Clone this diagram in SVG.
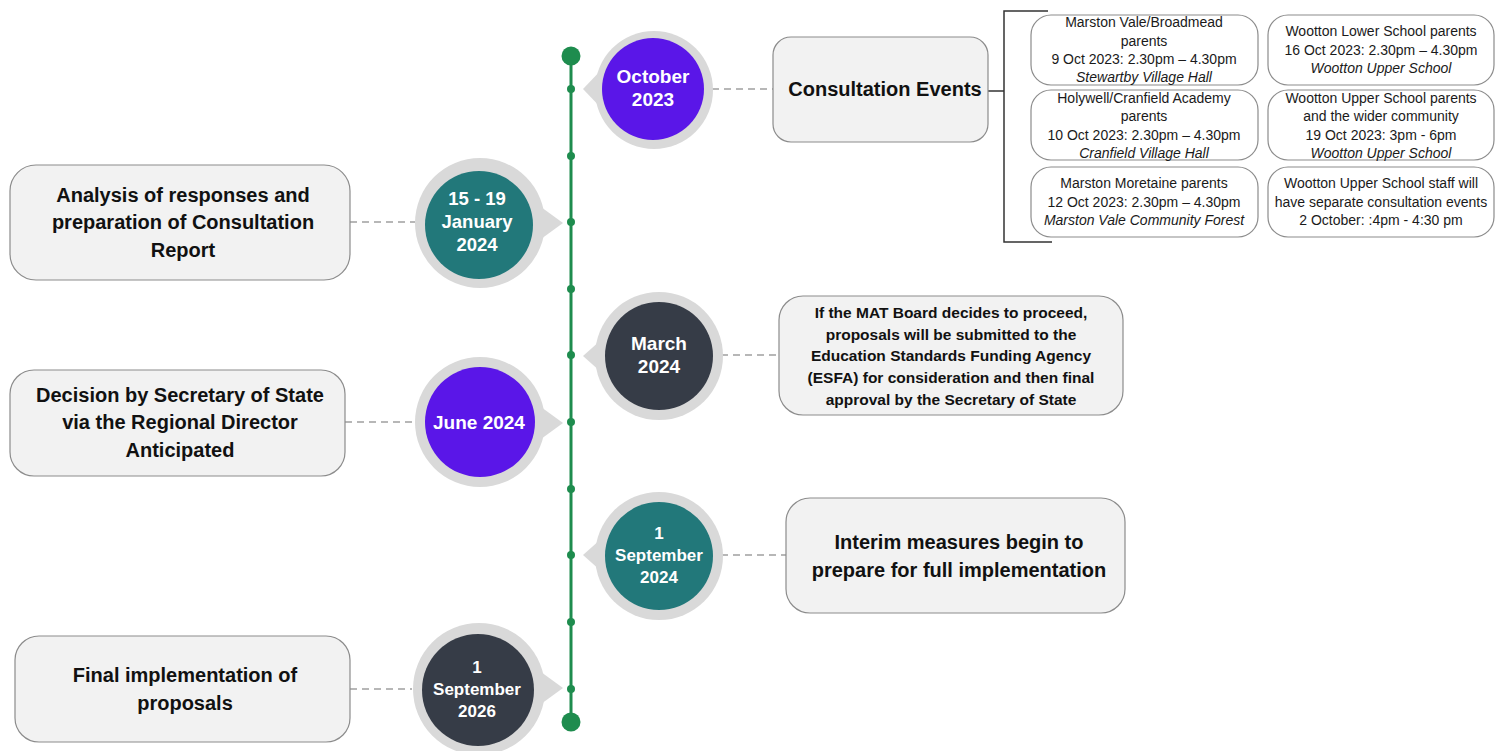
<svg xmlns="http://www.w3.org/2000/svg" width="1496" height="751" viewBox="0 0 1496 751">
<style>
.bg{fill:#ffffff}
.box{fill:#f2f2f2;stroke:#8c8c8c;stroke-width:1.2}
.ev{fill:#ffffff;stroke:#8c8c8c;stroke-width:1.2}
.dash{stroke:#a0a0a0;stroke-width:1.5;stroke-dasharray:7 5;fill:none}
.halo{fill:#d9d9d9}
.purple{fill:#5a16e8}
.teal{fill:#22787a}
.dark{fill:#363c47}
.ct{font-family:"Liberation Sans",Arial,sans-serif;font-weight:bold;fill:#ffffff;text-anchor:middle}
.bt{font-family:"Liberation Sans",Arial,sans-serif;font-weight:bold;fill:#111111;text-anchor:middle;font-size:20px}
.st{font-family:"Liberation Sans",Arial,sans-serif;font-weight:bold;fill:#111111;text-anchor:middle;font-size:15.5px}
.et{font-family:"Liberation Sans",Arial,sans-serif;fill:#1a1a1a;text-anchor:middle;font-size:14px}
.it{font-style:italic}
.line{stroke:#1e8c4e;stroke-width:3}
.dot{fill:#1e8c4e}
.brk{stroke:#333333;stroke-width:1.5;fill:none}
</style>
<rect class="bg" x="0" y="0" width="1496" height="751"/>

<g id="connectors">
  <line class="line" x1="571" y1="56" x2="571" y2="722"/>
  <circle class="dot" cx="571" cy="56" r="9.5"/>
  <circle class="dot" cx="571" cy="722" r="9.5"/>
  <circle class="dot" cx="571" cy="89" r="4"/>
  <circle class="dot" cx="571" cy="156" r="4"/>
  <circle class="dot" cx="571" cy="222" r="4"/>
  <circle class="dot" cx="571" cy="289" r="4"/>
  <circle class="dot" cx="571" cy="355" r="4"/>
  <circle class="dot" cx="571" cy="422" r="4"/>
  <circle class="dot" cx="571" cy="489" r="4"/>
  <circle class="dot" cx="571" cy="555" r="4"/>
  <circle class="dot" cx="571" cy="622" r="4"/>
  <circle class="dot" cx="571" cy="689" r="4"/>
  <line class="dash" x1="712" y1="89" x2="773" y2="89"/>
  <line class="dash" x1="350" y1="222" x2="415" y2="222"/>
  <line class="dash" x1="721" y1="355" x2="779" y2="355"/>
  <line class="dash" x1="345" y1="422" x2="413" y2="422"/>
  <line class="dash" x1="721" y1="555" x2="786" y2="555"/>
  <line class="dash" x1="350" y1="689" x2="412" y2="689"/>
  <line class="brk" x1="984" y1="91" x2="1004" y2="91"/>
  <path class="brk" d="M1048,11 H1004 V242 H1052"/>
</g>

<g id="oct2023">
  <circle class="halo" cx="654" cy="90" r="59"/>
  <polygon class="halo" points="583,89 605,66 605,112"/>
  <circle class="purple" cx="653" cy="89" r="51"/>
  <text class="ct" font-size="19" x="653" y="83">October</text>
  <text class="ct" font-size="19" x="653" y="106">2023</text>
</g>

<g id="jan2024">
  <circle class="halo" cx="480" cy="223" r="65"/>
  <polygon class="halo" points="563,223 530,199 530,247"/>
  <circle class="teal" cx="479" cy="225" r="54"/>
  <text class="ct" font-size="18.5" x="477" y="205">15 - 19</text>
  <text class="ct" font-size="18.5" x="477" y="228">January</text>
  <text class="ct" font-size="18.5" x="477" y="251">2024</text>
</g>

<g id="mar2024">
  <circle class="halo" cx="659" cy="356" r="64"/>
  <polygon class="halo" points="583,356 610,332 610,380"/>
  <circle class="dark" cx="659" cy="356" r="54"/>
  <text class="ct" font-size="19" x="659" y="350">March</text>
  <text class="ct" font-size="19" x="659" y="373">2024</text>
</g>

<g id="jun2024">
  <circle class="halo" cx="480" cy="422" r="65"/>
  <polygon class="halo" points="563,423 530,399 530,447"/>
  <circle class="purple" cx="480" cy="422" r="55"/>
  <text class="ct" font-size="19" x="479" y="429">June 2024</text>
</g>

<g id="sep2024">
  <circle class="halo" cx="659" cy="556" r="64"/>
  <polygon class="halo" points="583,555 610,531 610,579"/>
  <circle class="teal" cx="659" cy="556" r="54"/>
  <text class="ct" font-size="17" x="659" y="539">1</text>
  <text class="ct" font-size="17" x="659" y="561">September</text>
  <text class="ct" font-size="17" x="659" y="583">2024</text>
</g>

<g id="sep2026">
  <circle class="halo" cx="479" cy="689" r="66"/>
  <polygon class="halo" points="563,688 530,664 530,712"/>
  <circle class="dark" cx="478" cy="690" r="56"/>
  <text class="ct" font-size="17" x="477" y="673">1</text>
  <text class="ct" font-size="17" x="477" y="695">September</text>
  <text class="ct" font-size="17" x="477" y="717">2026</text>
</g>

<g id="consultation-events">
  <rect class="box" x="773" y="37" width="215" height="105" rx="18"/>
  <text class="bt" x="885" y="96">Consultation Events</text>
</g>

<g id="analysis">
  <rect class="box" x="10" y="165" width="340" height="115" rx="26"/>
  <text class="bt" x="183" y="202">Analysis of responses and</text>
  <text class="bt" x="183" y="229">preparation of Consultation</text>
  <text class="bt" x="183" y="257">Report</text>
</g>

<g id="esfa">
  <rect class="box" x="779" y="296" width="344" height="119" rx="24"/>
  <text class="st" x="951" y="318">If the MAT Board decides to proceed,</text>
  <text class="st" x="951" y="340">proposals will be submitted to the</text>
  <text class="st" x="951" y="361">Education Standards Funding Agency</text>
  <text class="st" x="951" y="383">(ESFA) for consideration and then final</text>
  <text class="st" x="951" y="405">approval by the Secretary of State</text>
</g>

<g id="decision">
  <rect class="box" x="10" y="370" width="335" height="106" rx="24"/>
  <text class="bt" x="180" y="402">Decision by Secretary of State</text>
  <text class="bt" x="180" y="429">via the Regional Director</text>
  <text class="bt" x="180" y="457">Anticipated</text>
</g>

<g id="interim">
  <rect class="box" x="786" y="498" width="339" height="115" rx="24"/>
  <text class="bt" x="959" y="549">Interim measures begin to</text>
  <text class="bt" x="959" y="577">prepare for full implementation</text>
</g>

<g id="final">
  <rect class="box" x="15" y="636" width="335" height="106" rx="24"/>
  <text class="bt" x="185" y="682">Final implementation of</text>
  <text class="bt" x="185" y="710">proposals</text>
</g>

<g id="event-1">
  <rect class="ev" x="1031" y="15" width="227" height="70" rx="20"/>
  <text class="et" x="1144" y="27">Marston Vale/Broadmead</text>
  <text class="et" x="1144" y="46">parents</text>
  <text class="et" x="1144" y="64">9 Oct 2023: 2.30pm – 4.30pm</text>
  <text class="et it" x="1144" y="82">Stewartby Village Hall</text>
</g>
<g id="event-2">
  <rect class="ev" x="1268" y="15" width="226" height="70" rx="20"/>
  <text class="et" x="1381" y="36">Wootton Lower School parents</text>
  <text class="et" x="1381" y="55">16 Oct 2023: 2.30pm – 4.30pm</text>
  <text class="et it" x="1381" y="73">Wootton Upper School</text>
</g>
<g id="event-3">
  <rect class="ev" x="1031" y="90" width="227" height="70" rx="20"/>
  <text class="et" x="1144" y="103">Holywell/Cranfield Academy</text>
  <text class="et" x="1144" y="121">parents</text>
  <text class="et" x="1144" y="140">10 Oct 2023: 2.30pm – 4.30pm</text>
  <text class="et it" x="1144" y="158">Cranfield Village Hall</text>
</g>
<g id="event-4">
  <rect class="ev" x="1268" y="90" width="226" height="70" rx="20"/>
  <text class="et" x="1381" y="103">Wootton Upper School parents</text>
  <text class="et" x="1381" y="121">and the wider community</text>
  <text class="et" x="1381" y="140">19 Oct 2023: 3pm - 6pm</text>
  <text class="et it" x="1381" y="158">Wootton Upper School</text>
</g>
<g id="event-5">
  <rect class="ev" x="1031" y="167" width="227" height="70" rx="20"/>
  <text class="et" x="1144" y="188">Marston Moretaine parents</text>
  <text class="et" x="1144" y="207">12 Oct 2023: 2.30pm – 4.30pm</text>
  <text class="et it" x="1144" y="225">Marston Vale Community Forest</text>
</g>
<g id="event-6">
  <rect class="ev" x="1268" y="167" width="226" height="70" rx="20"/>
  <text class="et" x="1381" y="188">Wootton Upper School staff will</text>
  <text class="et" x="1381" y="207">have separate consultation events</text>
  <text class="et" x="1381" y="225">2 October: :4pm - 4:30 pm</text>
</g>
</svg>
